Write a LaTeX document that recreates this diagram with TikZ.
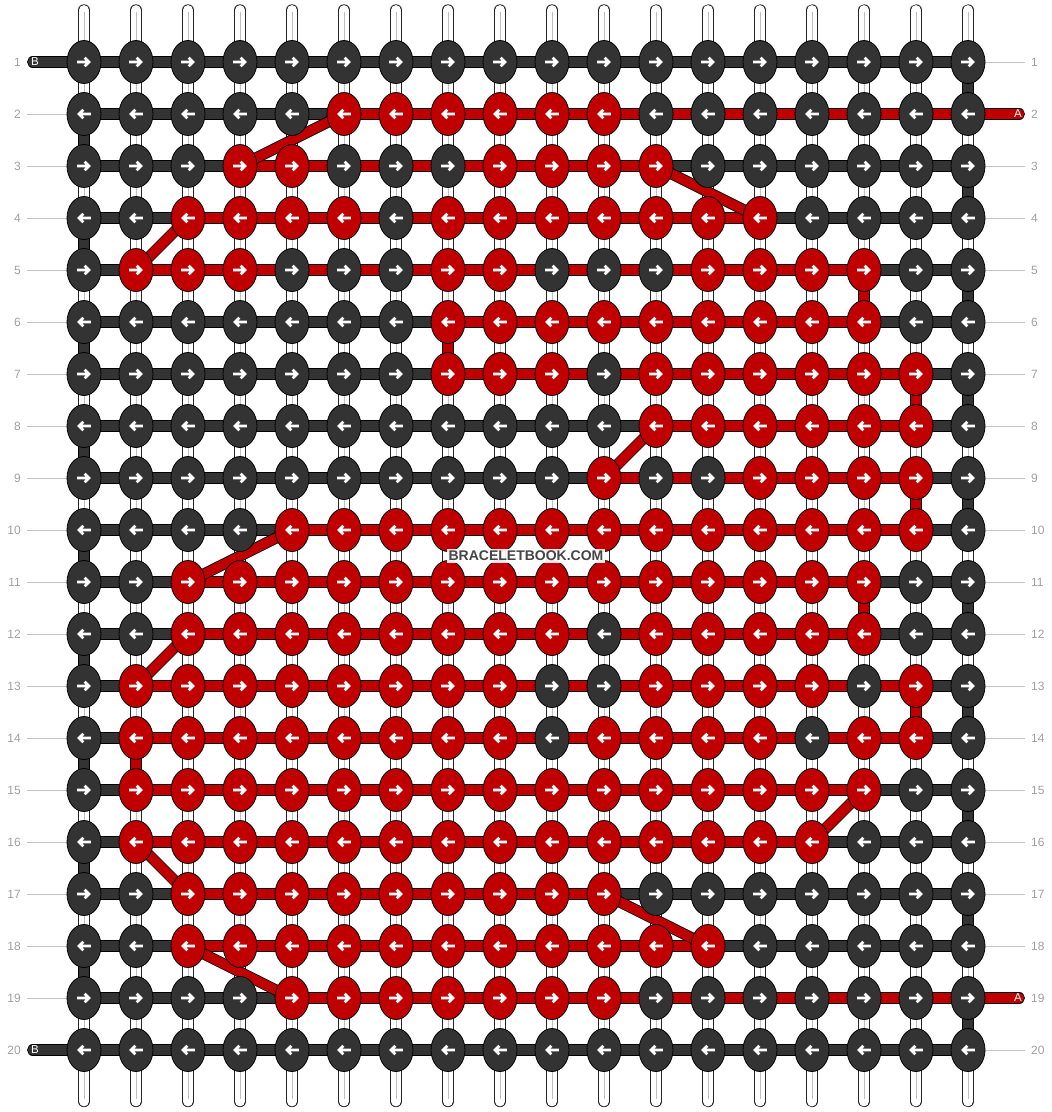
\documentclass[tikz,border=0pt]{standalone}
\usepackage{fontspec}
\setmainfont{Liberation Sans}
\usepackage{xstring}
\usetikzlibrary{shapes.geometric}
\definecolor{kdark}{HTML}{333333}
\definecolor{kred}{HTML}{C00000}
\definecolor{lblgray}{HTML}{A0A0A0}
\definecolor{lngray}{HTML}{C4C4C4}
\definecolor{wmgray}{HTML}{454545}
\definecolor{strandmid}{HTML}{BDBDBD}
\pgfdeclarelayer{strands}
\pgfdeclarelayer{threads}
\pgfsetlayers{strands,threads,main}
\tikzset{
  knot/.style={ellipse, draw=black, line width=0.8pt, minimum width=34pt,
    minimum height=43pt, inner sep=0pt},
  arrowR/.style={path picture={
    \draw[white, line width=2.7pt, line join=miter]
      ([xshift=-6.8pt]path picture bounding box.center) -- ([xshift=4.8pt]path picture bounding box.center)
      ([shift={(0.6pt,4.3pt)}]path picture bounding box.center) -- ([xshift=5pt]path picture bounding box.center)
      -- ([shift={(0.6pt,-4.3pt)}]path picture bounding box.center);}},
  arrowL/.style={path picture={
    \draw[white, line width=2.7pt, line join=miter]
      ([xshift=6.8pt]path picture bounding box.center) -- ([xshift=-4.8pt]path picture bounding box.center)
      ([shift={(-0.6pt,4.3pt)}]path picture bounding box.center) -- ([xshift=-5pt]path picture bounding box.center)
      -- ([shift={(-0.6pt,-4.3pt)}]path picture bounding box.center);}},
  knot1/.style={knot, arrowR},
  knot0/.style={knot, arrowL},
  thrd/.style={draw=black, line width=0.8pt, double=#1, double distance=9.6pt},
  strandout/.style={draw=black!85, line width=0.8pt, double=white,
    double distance=9.8pt, line cap=round},
  strandin/.style={draw=strandmid, line width=0.8pt},
  rowline/.style={draw=lngray, line width=1pt},
  numlbl/.style={text=lblgray, inner sep=0pt, font=\fontsize{12}{12}\selectfont},
  endlbl/.style={text=white, inner sep=0pt, font=\fontsize{11.5}{11.5}\selectfont},
}
\begin{document}
\begin{tikzpicture}[x=1pt,y=-1pt]
\useasboundingbox (0,0) rectangle (1052,1112);
% knots
\foreach \r/\pat in {
  1/000000000000000000,
  2/000001111110000000,
  3/000110001111000000,
  4/001111011111110000,
  5/011100011000111100,
  6/000000011111111100,
  7/000000011101111110,
  8/000000000001111110,
  9/000000000010011110,
  10/000011111111111110,
  11/001111111111111100,
  12/001111111101111100,
  13/011111111001111010,
  14/011111111011110110,
  15/011111111111111100,
  16/011111111111111000,
  17/001111111110000000,
  18/001111111111100000,
  19/000011111110000000,
  20/000000000000000000}{
  \foreach \c in {1,...,18}{
    \StrChar{\pat}{\c}[\ch]
    \ifnum\ch=1 \def\kc{kred}\else\def\kc{kdark}\fi
    \pgfmathtruncatemacro\arrodd{mod(\r,2)}
    \ifnum\arrodd=1
      \node[knot1, fill=\kc] (k-\r-\c) at ({32+52*\c},{10+52*\r}) {};
    \else
      \node[knot0, fill=\kc] (k-\r-\c) at ({32+52*\c},{10+52*\r}) {};
    \fi
  }
}
% coordinates for free ends
\foreach \c in {1,...,18}{
  \coordinate (st-\c) at ({32+52*\c},10);
  \coordinate (sb-\c) at ({32+52*\c},1101.5);
  \coordinate (mt-\c) at ({32+52*\c},12);
  \coordinate (mb-\c) at ({32+52*\c},1099);
}
\foreach \r in {1,...,20}{
  \coordinate (ll-\r) at (27,{10+52*\r});
  \coordinate (rl-\r) at (1025,{10+52*\r});
}
\coordinate (bs-1) at (32.7,62);
\coordinate (bs-20) at (32.7,1050);
\coordinate (ae-2) at (1019.3,114);
\coordinate (ae-19) at (1019.3,998);
% vertical strands
\begin{pgfonlayer}{strands}
\foreach \c in {1,...,18}{
  \draw[strandout] (st-\c) -- (sb-\c);
  \draw[strandin] (mt-\c) -- (mb-\c);
}
\end{pgfonlayer}
% threads
\begin{pgfonlayer}{threads}
\foreach \r in {2,...,19} \draw[rowline] (ll-\r) -- (k-\r-1);
\foreach \r in {1,3,4,...,18,20} \draw[rowline] (k-\r-18) -- (rl-\r);
\foreach \r in {1,...,20} \draw[thrd=kdark] (k-\r-1.center) -- (k-\r-18.center);
\draw[thrd=kdark, line cap=round] (bs-1) -- (k-1-1.center);
\draw[thrd=kdark, line cap=round] (bs-20) -- (k-20-1.center);
\foreach \r [evaluate=\r as \n using int(\r+1)] in {1,3,...,19}
  \draw[thrd=kdark] (k-\r-18.center) -- (k-\n-18.center);
\foreach \r [evaluate=\r as \n using int(\r+1)] in {2,4,...,18}
  \draw[thrd=kdark] (k-\r-1.center) -- (k-\n-1.center);
\foreach \r/\a/\b in {3/4/12, 4/3/14, 5/2/16, 6/8/16, 7/8/17, 8/12/17, 9/11/17,
  10/5/17, 11/3/16, 12/3/16, 13/2/17, 14/2/17, 15/2/16, 16/2/15, 17/3/11, 18/3/13}
  \draw[thrd=kred] (k-\r-\a.center) -- (k-\r-\b.center);
\draw[thrd=kred, line cap=round] (k-2-6.center) -- (ae-2);
\draw[thrd=kred, line cap=round] (k-19-5.center) -- (ae-19);
\foreach \c/\r/\n in {16/5/6, 8/6/7, 17/7/8, 17/9/10, 16/11/12, 17/13/14, 2/14/15}
  \draw[thrd=kred] (k-\r-\c.center) -- (k-\n-\c.center);
\foreach \ra/\ca/\rb/\cb in {2/6/3/4, 3/12/4/14, 4/3/5/2, 8/12/9/11, 10/5/11/3,
  12/3/13/2, 15/16/16/15, 16/2/17/3, 17/11/18/13, 18/3/19/5}
  \draw[thrd=kred] (k-\ra-\ca.center) -- (k-\rb-\cb.center);
\end{pgfonlayer}
% labels
\foreach \r in {1,...,20}{
  \node[numlbl, anchor=east] (nl-\r) at (21,{10+52*\r}) {\r};
  \node[numlbl, anchor=west] (nr-\r) at (1031,{10+52*\r}) {\r};
}
\node[endlbl] (lb-1) at (35,62) {B};
\node[endlbl] (lb-20) at (35,1050) {B};
\node[endlbl] (la-2) at (1018,114) {A};
\node[endlbl] (la-19) at (1018,998) {A};
\node[font=\bfseries\fontsize{14}{14}\selectfont, text=wmgray, anchor=base,
  fill=white, fill opacity=0.9, text opacity=1, inner xsep=2pt, inner ysep=2pt]
  (wm) at (526,560.5) {BRACELETBOOK.COM};
\end{tikzpicture}
\end{document}
